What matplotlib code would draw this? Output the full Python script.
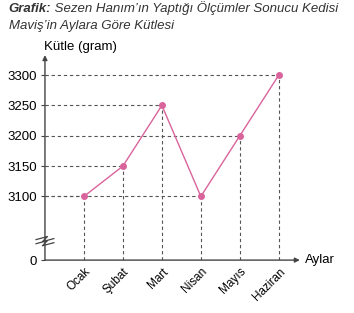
import matplotlib.pyplot as plt

plt.rcParams['font.family'] = ['Liberation Sans', 'DejaVu Sans']

months = ["Ocak", "Şubat", "Mart", "Nisan", "Mayıs", "Haziran"]
mass = [3100, 3150, 3250, 3100, 3200, 3300]
yticks = [3100, 3150, 3200, 3250, 3300]

line_color = '#d9649c'
axis_color = '#444444'
dash_color = '#555555'

fig = plt.figure(figsize=(3.54, 3.13), dpi=100)
ax = fig.add_axes([0.127, 0.169, 0.72, 0.655])

x = list(range(len(months)))
y_bottom = 2995  # where the broken axis shows "0"
ax.set_xlim(-1.0, 5.54)
ax.set_ylim(y_bottom, 3333)

# guide lines to the axes
for xi, yi in zip(x, mass):
    ax.plot([-1.0, xi], [yi, yi], ls=(0, (3, 2.5)), color=dash_color, lw=0.8)
    ax.plot([xi, xi], [y_bottom, yi], ls=(0, (3, 2.5)), color=dash_color, lw=0.8)

ax.plot(x, mass, color=line_color, lw=1.0, marker='o', ms=4, zorder=3)

for s in ax.spines.values():
    s.set_visible(False)

# axes with arrows
ax.annotate('', xy=(0, 1.0), xytext=(0, 0), xycoords='axes fraction',
            arrowprops=dict(arrowstyle='-|>', color=axis_color, lw=1.0,
                            mutation_scale=7, shrinkA=0, shrinkB=0))
ax.annotate('', xy=(1.0, 0), xytext=(0, 0), xycoords='axes fraction',
            arrowprops=dict(arrowstyle='-|>', color=axis_color, lw=1.0,
                            mutation_scale=7, shrinkA=0, shrinkB=0))

ax.set_yticks([y_bottom] + yticks)
ax.set_yticklabels(['0'] + [str(v) for v in yticks], fontsize=9.5)
ax.set_xticks(x)
ax.set_xticklabels(months, fontsize=8.5, rotation=45, ha='right',
                   va='top', rotation_mode='anchor')
ax.tick_params(axis='both', length=3, width=0.8, color=axis_color, pad=3)
ax.tick_params(axis='x', length=0, pad=4)

# axis break mark
ax.plot([-0.035, 0.01, -0.01, 0.035], [0.10, 0.115, 0.09, 0.105],
        transform=ax.transAxes, color=axis_color, lw=0.9, clip_on=False)
ax.plot([-0.035, 0.01, -0.01, 0.035], [0.08, 0.095, 0.07, 0.085],
        transform=ax.transAxes, color=axis_color, lw=0.9, clip_on=False)

ax.text(-0.005, 1.01, 'Kütle (gram)', transform=ax.transAxes, fontsize=9.5,
        ha='left', va='bottom')
ax.text(1.02, 0.0, 'Aylar', transform=ax.transAxes, fontsize=9.5,
        ha='left', va='center')

t1 = fig.text(0.025, 0.99, 'Grafik:', fontsize=9.5, fontweight='bold',
              fontstyle='italic', color='#333333', va='top')
ax.annotate(' Sezen Hanım\u2019ın Yaptığı Ölçümler Sonucu Kedisi',
            xy=(1, 0), xycoords=t1, fontsize=9.5, fontstyle='italic',
            color='#333333', va='bottom')
fig.text(0.025, 0.935, 'Maviş\u2019in Aylara Göre Kütlesi', fontsize=9.5,
         fontstyle='italic', color='#333333', va='top')

fig.savefig('out.png', dpi=100)
